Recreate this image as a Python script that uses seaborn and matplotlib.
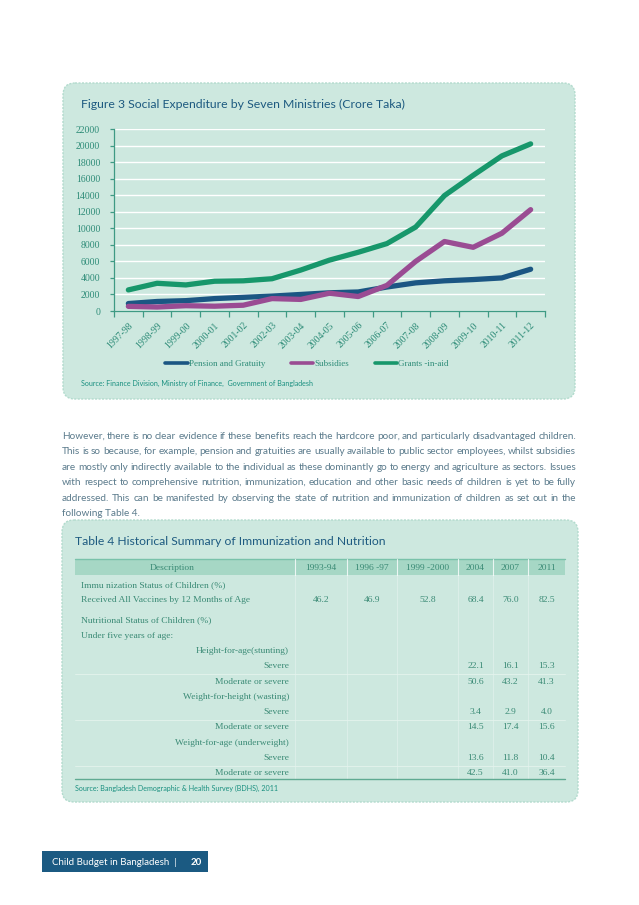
import matplotlib
matplotlib.use("Agg")
import matplotlib.pyplot as plt
import seaborn as sns
import pandas as pd
from matplotlib.patches import FancyBboxPatch, Rectangle
from matplotlib.ticker import FixedLocator, MultipleLocator

# ---------------- data ----------------
years = ["1997-98", "1998-99", "1999-00", "2000-01", "2001-02", "2002-03", "2003-04",
         "2004-05", "2005-06", "2006-07", "2007-08", "2008-09", "2009-10", "2010-11", "2011-12"]
pension = [900, 1150, 1250, 1500, 1650, 1800, 2000, 2200, 2300, 2900, 3400, 3650, 3800, 4000, 5050]
subsidies = [560, 480, 640, 580, 700, 1500, 1400, 2150, 1750, 3100, 6000, 8400, 7700, 9400, 12250]
grants = [2550, 3350, 3150, 3600, 3650, 3900, 4950, 6150, 7100, 8150, 10150, 13950, 16400, 18750, 20200]
series_names = ["Pension and Gratuity", "Subsidies", "Grants -in-aid"]

chart_title = "Figure 3 Social Expenditure by Seven Ministries (Crore Taka)"
chart_source = "Source: Finance Division, Ministry of Finance,  Government of Bangladesh"

paragraph_lines = [
    "However, there is no clear evidence if these benefits reach the hardcore poor, and particularly disadvantaged children.",
    "This is so because, for example, pension and gratuities are usually available to public sector employees, whilst subsidies",
    "are mostly only indirectly available to the individual as these dominantly go to energy and agriculture as sectors. Issues",
    "with respect to comprehensive nutrition, immunization, education and other basic needs of children is yet to be fully",
    "addressed. This can be manifested by observing the state of nutrition and immunization of children as set out in the",
    "following Table 4.",
]

table_title = "Table 4 Historical Summary of Immunization and Nutrition"
table_headers = ["Description", "1993-94", "1996 -97", "1999 -2000", "2004", "2007", "2011"]
row_labels = ["Immu nization Status of Children (%)", "Received All Vaccines by 12 Months of Age",
              "Nutritional Status of Children (%)", "Under five years of age:",
              "Height-for-age(stunting)", "Severe", "Moderate or severe",
              "Weight-for-height (wasting)", "Severe", "Moderate or severe",
              "Weight-for-age (underweight)", "Severe", "Moderate or severe"]
row_nested = [False, False, False, False, True, True, True, True, True, True, True, True, True]
row_values = [
    [None] * 6,
    [46.2, 46.9, 52.8, 68.4, 76.0, 82.5],
    [None] * 6,
    [None] * 6,
    [None] * 6,
    [None, None, None, 22.1, 16.1, 15.3],
    [None, None, None, 50.6, 43.2, 41.3],
    [None] * 6,
    [None, None, None, 3.4, 2.9, 4.0],
    [None, None, None, 14.5, 17.4, 15.6],
    [None] * 6,
    [None, None, None, 13.6, 11.8, 10.4],
    [None, None, None, 42.5, 41.0, 36.4],
]
table_source = "Source: Bangladesh Demographic & Health Survey (BDHS), 2011"
footer_text = "Child Budget in Bangladesh  |"
footer_page = "20"

# ---------------- style ----------------
colors = ["#1b5683", "#9a4c93", "#17976b"]
box_fill = "#cde8df"
box_edge = "#b2dbcd"
title_col = "#1d5a80"
teal_txt = "#2e8c78"
para_col = "#5b7b8c"
serif = ["Liberation Serif", "DejaVu Serif"]

sns.set_theme(style="white")
plt.rcParams["font.family"] = ["Lato", "DejaVu Sans"]

W, H = 639, 905
fig = plt.figure(figsize=(W / 100, H / 100), dpi=100)
fig.patch.set_facecolor("white")

page = fig.add_axes([0, 0, 1, 1])
page.set_xlim(0, W)
page.set_ylim(H, 0)
page.axis("off")
page.set_zorder(0)

# boxes
for (x0, y0, x1, y1) in [(63, 83, 575, 399), (62, 520, 578, 802)]:
    page.add_patch(FancyBboxPatch((x0, y0), x1 - x0, y1 - y0,
                                  boxstyle="round,pad=0,rounding_size=12",
                                  fc=box_fill, ec=box_edge, lw=1.0, ls=(0, (1.5, 1.0))))

# ---------------- chart ----------------
ax = fig.add_axes([114 / W, 1 - 311 / H, (545 - 114) / W, (311 - 129) / H])
ax.set_zorder(2)
ax.patch.set_alpha(0)

df = pd.DataFrame({
    "Year": years * 3,
    "Value": pension + subsidies + grants,
    "Series": [series_names[0]] * len(years) + [series_names[1]] * len(years) + [series_names[2]] * len(years),
})
sns.lineplot(data=df, x="Year", y="Value", hue="Series", hue_order=series_names,
             palette=colors, linewidth=3.8, sort=False, ax=ax, zorder=3)
for ln in ax.lines:
    ln.set_solid_capstyle("round")
    ln.set_solid_joinstyle("round")

ax.set_xlim(-0.5, len(years) - 0.5)
ax.set_ylim(0, 22000)
ax.yaxis.set_major_locator(MultipleLocator(2000))
ax.grid(axis="y", color="white", lw=1.0, zorder=1)
ax.grid(axis="x", visible=False)
ax.set_axisbelow(True)
ax.set_xlabel("")
ax.set_ylabel("")
for s in ["top", "right"]:
    ax.spines[s].set_visible(False)
for s in ["left", "bottom"]:
    ax.spines[s].set_color("#3e9a84")
    ax.spines[s].set_linewidth(0.9)

ax.xaxis.set_major_locator(FixedLocator(range(len(years))))
ax.set_xticklabels(years, rotation=45, ha="right", va="top", rotation_mode="anchor",
                   fontsize=7.0, color=teal_txt, family=serif)
ax.xaxis.set_minor_locator(FixedLocator([i - 0.5 for i in range(len(years) + 1)]))
ax.tick_params(axis="x", which="major", length=0, pad=7)
ax.tick_params(axis="x", which="minor", length=4, width=0.9, color="#3e9a84", direction="out", bottom=True)
ax.tick_params(axis="y", which="major", length=3, width=0.9, color="#3e9a84", direction="out",
               labelsize=7.0, labelcolor=teal_txt, pad=7, left=True)
for t in ax.get_yticklabels():
    t.set_family(serif)

handles, labels = ax.get_legend_handles_labels()
for h in handles:
    h.set_linewidth(2.6)
ax.legend(handles, labels, loc="center", bbox_to_anchor=(307 / W, 1 - 364 / H),
          bbox_transform=fig.transFigure, ncol=3, frameon=False,
          prop={"family": serif, "size": 6.5}, labelcolor=teal_txt,
          handlelength=2.5, handletextpad=0.15, columnspacing=2.8)

page.text(81, 104, chart_title, fontsize=8.8, color=title_col, va="center", ha="left")
page.text(81, 383, chart_source, fontsize=5.1, color="#1a9080", va="center", ha="left")

# ---------------- justified paragraph ----------------
fig.canvas.draw()
renderer = fig.canvas.get_renderer()
px0, px1 = 62, 576
para_fs = 7.2
for i, line in enumerate(paragraph_lines):
    y = 436 + i * 15.5
    words = line.split(" ")
    last = i == len(paragraph_lines) - 1
    if last:
        page.text(px0, y, line, fontsize=para_fs, color=para_col, va="center", ha="left")
        continue
    objs = [page.text(0, y, w, fontsize=para_fs, color=para_col, va="center", ha="left") for w in words]
    widths = [o.get_window_extent(renderer).width for o in objs]
    gap = (px1 - px0 - sum(widths)) / (len(words) - 1)
    x = px0
    for o, wdt in zip(objs, widths):
        o.set_x(x)
        x += wdt + gap

# ---------------- table ----------------
tfs = 6.8
tcol = "#3a8a75"
page.text(75, 541, table_title, fontsize=8.7, color=title_col, va="center", ha="left")
col_bounds = [75, 295, 347, 397, 458, 493, 528, 565]
hdr_centers = [172] + [(col_bounds[k] + col_bounds[k + 1]) / 2 for k in range(1, 7)]
page.add_patch(Rectangle((75, 559), 490, 16, fc="#a6d7c5", ec="none"))
page.plot([75, 565], [559, 559], color="#79c2aa", lw=1.0)
for xb in col_bounds[1:-1]:
    page.plot([xb, xb], [559, 575], color="white", lw=0.8, alpha=0.8)
    page.plot([xb, xb], [575, 779], color="white", lw=0.6, alpha=0.35)
for k, htxt in enumerate(table_headers):
    page.text(hdr_centers[k], 567.5, htxt, fontsize=tfs, color=tcol, va="center", ha="center", family=serif)

for i, (lab, nested, vals) in enumerate(zip(row_labels, row_nested, row_values)):
    y = 585 + i * 15.25 + (5 if i >= 2 else 0)
    if nested:
        page.text(289, y, lab, fontsize=tfs, color=tcol, va="center", ha="right", family=serif)
    else:
        page.text(81, y, lab, fontsize=tfs, color=tcol, va="center", ha="left", family=serif)
    for k, v in enumerate(vals):
        if v is not None:
            page.text(hdr_centers[k + 1], y, f"{v:.1f}", fontsize=tfs, color=tcol,
                      va="center", ha="center", family=serif)
for ysep in [674, 720, 766]:
    page.plot([75, 565], [ysep, ysep], color="#e4f3ed", lw=0.6)
page.plot([75, 565], [779, 779], color="#5faa92", lw=1.0)
page.text(75, 788, table_source, fontsize=5.1, color="#1a9080", va="center", ha="left")

# ---------------- footer ----------------
page.add_patch(Rectangle((42, 851), 166, 21, fc="#1b5a82", ec="none"))
page.text(52, 862, footer_text, fontsize=7.0, color="white", va="center", ha="left")
page.text(191, 862, footer_page, fontsize=7.0, color="white", va="center", ha="left", weight="bold")

fig.savefig("out.png", dpi=100, facecolor="white")
